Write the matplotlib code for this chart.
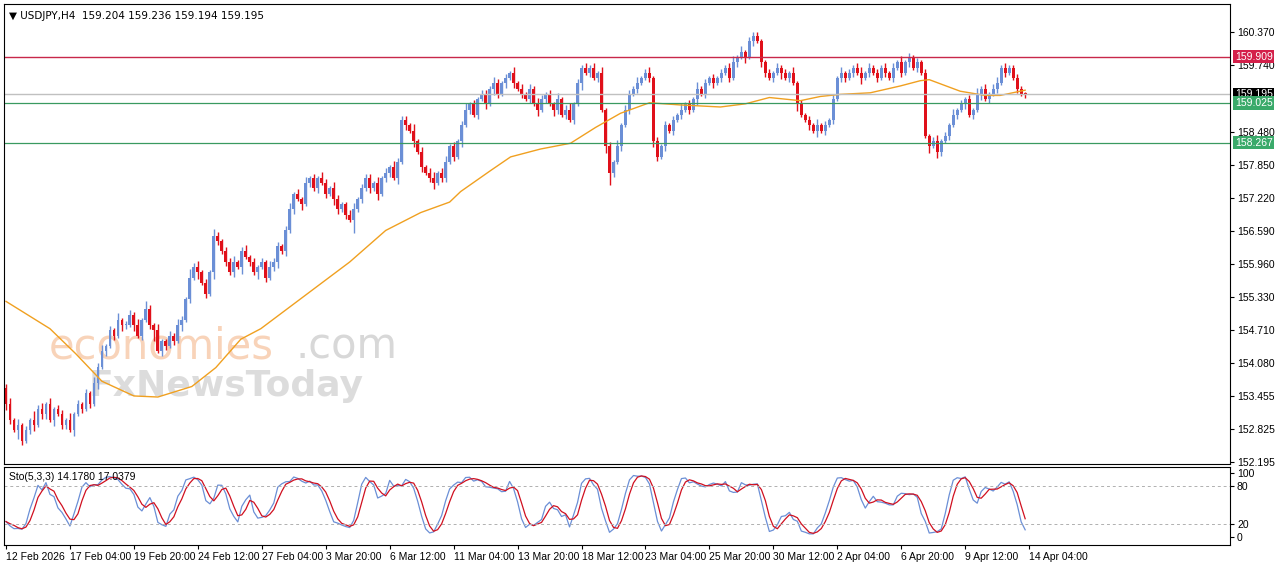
import matplotlib
matplotlib.use("Agg")
import matplotlib.pyplot as plt
import numpy as np

plt.rcParams['font.family'] = ['Liberation Sans', 'DejaVu Sans']

closes = [
153.3,153.0,152.8,152.9,152.6,152.8,153.0,152.9,153.2,153.1,
153.3,153.0,153.2,153.1,152.9,153.0,152.8,153.1,153.3,153.2,
153.5,153.3,153.7,154.0,154.3,154.4,154.7,154.6,154.9,154.8,
154.8,155.0,154.8,154.6,154.9,155.1,154.8,154.7,154.3,154.5,
154.4,154.6,154.5,154.8,154.9,155.3,155.7,155.9,155.8,155.6,
155.4,155.8,156.5,156.4,156.2,156.0,155.8,156.0,155.9,156.2,
156.1,156.0,155.8,155.9,156.0,155.7,155.9,156.0,156.3,156.2,
156.6,157.0,157.3,157.2,157.1,157.5,157.6,157.4,157.6,157.5,
157.3,157.4,157.2,157.0,157.1,156.9,156.8,157.0,157.2,157.4,
157.6,157.4,157.5,157.3,157.6,157.7,157.8,157.6,157.9,158.7,
158.6,158.5,158.3,158.1,157.8,157.7,157.6,157.5,157.7,157.6,
157.9,158.2,158.0,158.3,158.6,158.9,159.0,158.8,159.1,159.2,
159.0,159.3,159.4,159.2,159.4,159.5,159.6,159.4,159.3,159.2,
159.1,159.3,159.0,158.9,159.1,159.2,159.0,158.9,159.1,158.8,
158.9,158.7,159.0,159.4,159.7,159.6,159.7,159.5,159.6,158.9,
158.2,157.7,157.9,158.2,158.6,158.9,159.2,159.3,159.4,159.5,
159.6,159.5,158.3,158.0,158.2,158.6,158.5,158.7,158.8,158.9,
159.0,158.9,159.1,159.3,159.2,159.4,159.5,159.4,159.5,159.6,
159.7,159.5,159.8,159.9,160.0,159.9,160.2,160.3,160.2,159.8,
159.6,159.5,159.6,159.7,159.6,159.5,159.6,159.4,159.0,158.8,
158.7,158.6,158.5,158.6,158.5,158.6,158.7,159.1,159.5,159.6,
159.5,159.6,159.7,159.6,159.5,159.6,159.7,159.6,159.5,159.7,
159.6,159.5,159.7,159.8,159.6,159.8,159.9,159.7,159.8,159.6,
158.4,158.2,158.3,158.1,158.3,158.4,158.6,158.8,158.9,159.0,
159.1,158.8,158.9,159.2,159.3,159.1,159.2,159.3,159.4,159.7,
159.6,159.7,159.5,159.3,159.2,159.195]
first_open = 153.6
# wick sizes in units of 0.04 price
up_wick_digits = ("2313121423" "1312213121" "2132312131" "2213142131" "1213214231"
                  "2132122312" "3121213221" "2312131213" "2132112312" "2213121322"
                  "2131212312" "3121231212" "2132121312" "1213212131" "2312121213"
                  "1213122131" "2312121213" "1213121212" "1231312221" "1212121312"
                  "1213121213" "1212312121" "2121312121" "2123121312" "1213121231"
                  "211211")
dn_wick_digits = ("3214212312" "2131221312" "1213121213" "2131212512" "2121312131"
                  "2132121213" "1213121231" "2121312121" "2132121612" "1213122131"
                  "2131212312" "2121312121" "2132121212" "1213121321" "2121312121"
                  "3621212121" "1232121212" "1213121212" "1212131212" "2121312131"
                  "1213121212" "2121312121" "2121212121" "1313212121" "2121312121"
                  "211212")

ma_bars = [0, 11, 17.5, 24, 32, 38, 46.5, 52.5, 58.75, 63.75, 86, 95, 103.75, 111, 113.75, 121.25, 126.25,
           133.75, 141.25, 147.5, 153.75, 161, 168.5, 178.75, 185, 191, 198.75, 203.75, 208.75, 216.25,
           223.75, 228.75, 231, 238.75, 245, 248.75, 255]
ma_vals = [155.25, 154.73, 154.25, 153.73, 153.45, 153.43, 153.63, 153.99, 154.53, 154.73, 156.0, 156.6,
           156.94, 157.14, 157.34, 157.74, 158.0, 158.15, 158.26, 158.56, 158.83, 159.03, 158.99, 158.95,
           159.01, 159.13, 159.07, 159.15, 159.19, 159.22, 159.35, 159.45, 159.47, 159.25, 159.17, 159.17, 159.27]

level_red = 159.909
level_cur = 159.195
level_g1 = 159.025
level_g2 = 158.267
price_ticks = [160.370, 159.740, 158.480, 157.850, 157.220, 156.590, 155.960, 155.330, 154.710, 154.080, 153.455, 152.825, 152.195]
date_labels = ["12 Feb 2026", "17 Feb 04:00", "19 Feb 20:00", "24 Feb 12:00", "27 Feb 04:00", "3 Mar 20:00",
               "6 Mar 12:00", "11 Mar 04:00", "13 Mar 20:00", "18 Mar 12:00", "23 Mar 04:00", "25 Mar 20:00",
               "30 Mar 12:00", "2 Apr 04:00", "6 Apr 20:00", "9 Apr 12:00", "14 Apr 04:00"]
date_label_bars = [0, 16, 32, 48, 64, 80, 96, 112, 128, 144, 160, 176, 192, 208, 224, 240, 256]

n = len(closes)
c = np.array(closes)
o = np.concatenate([[first_open], c[:-1]])
uw = np.array([int(d) for d in up_wick_digits[:n]]) * 0.04
dw = np.array([int(d) for d in dn_wick_digits[:n]]) * 0.04
h = np.maximum(o, c) + uw
l = np.minimum(o, c) - dw

# stochastic 5,3,3
K = np.full(n, np.nan)
for i in range(n):
    lo = l[max(0, i - 4):i + 1].min(); hi = h[max(0, i - 4):i + 1].max()
    K[i] = 100 * (c[i] - lo) / (hi - lo)
Ks = np.array([np.mean(K[max(0, i - 2):i + 1]) for i in range(n)])
Ds = np.array([np.mean(Ks[max(0, i - 2):i + 1]) for i in range(n)])

W, H = 1280, 567
fig = plt.figure(figsize=(12.8, 5.67), dpi=100)
fig.patch.set_facecolor("white")
x0 = 4; x1 = 1230
ax = fig.add_axes([x0 / W, (H - 464) / H, (x1 - x0) / W, 460 / H])
ax2 = fig.add_axes([x0 / W, (H - 545) / H, (x1 - x0) / W, 78 / H])
xlim = (-0.5, (1230 - 5) / 4)
for a in (ax, ax2):
    a.set_xlim(*xlim)
    for s in a.spines.values():
        s.set_color("black"); s.set_linewidth(0.8)
ax.set_ylim(152.155, 160.91)

bull = "#6b8fd6"; bear = "#e0101a"
x = np.arange(n)
cols = [bull if c[i] >= o[i] else bear for i in range(n)]
ax.vlines(x, l, h, colors=cols, linewidth=1)
bh = np.maximum(np.abs(c - o), 0.015)
ax.bar(x, bh, bottom=np.minimum(o, c), width=0.7, color=cols, linewidth=0)

ax.plot(ma_bars, ma_vals, color="#f0a020", linewidth=1)

ax.axhline(level_red, color="#c8284a", linewidth=1)
ax.axhline(level_cur, color="#c0c0c0", linewidth=1)
ax.axhline(level_g1, color="#3a9a60", linewidth=0.9)
ax.axhline(level_g2, color="#3a9a60", linewidth=0.9)

ax.yaxis.tick_right()
ax.set_yticks(price_ticks)
ax.set_yticklabels([f"{t:.3f}" for t in price_ticks], fontsize=7.5)
ax.tick_params(axis="y", length=3, pad=2)
ax.set_xticks([])
for val, bg, fg in [(level_red, "#d4204a", "white"), (level_cur, "black", "white"),
                    (level_g1, "#3aaa6a", "white"), (level_g2, "#3aaa6a", "white")]:
    ax.text(1.004, val, f"{val:.3f}", transform=ax.get_yaxis_transform(), fontsize=7.5, color=fg,
            va="center", ha="left", bbox=dict(boxstyle="square,pad=0.15", fc=bg, ec="none"), clip_on=False)

ax.text(0.004, 0.985, "▼ USDJPY,H4  159.204 159.236 159.194 159.195", transform=ax.transAxes,
        fontsize=7.5, va="top", ha="left", color="black", family=['DejaVu Sans'])

# watermark
ax.text(45 / 1226, 0.255, "economies", transform=ax.transAxes, fontsize=30, color="#f7c9a8",
        alpha=0.8, va="center", ha="left", zorder=0, family=['DejaVu Sans'])
ax.text(292 / 1226, 0.255, ".com", transform=ax.transAxes, fontsize=30, color="#d8d8d8",
        va="center", ha="left", zorder=0, family=['DejaVu Sans'])
ax.text(85 / 1226, 0.17, "FxNewsToday", transform=ax.transAxes, fontsize=26, color="#d4d4d4",
        alpha=0.8, va="center", ha="left", zorder=0, fontweight="bold", family=['DejaVu Sans'])

# stochastic
ax2.set_ylim(-12.5, 109)
ax2.plot(x, Ks, color="#6b8fd6", linewidth=0.9)
ax2.plot(x, Ds, color="#d01020", linewidth=0.9)
for lv in (80, 20):
    ax2.axhline(lv, color="#b0b0b0", linewidth=0.7, linestyle=(0, (3, 3)))
ax2.yaxis.tick_right()
ax2.set_yticks([100, 80, 20, 0])
ax2.set_yticklabels(["100", "80", "20", "0"], fontsize=7.5)
ax2.tick_params(axis="y", length=3, pad=2)
ax2.text(0.004, 0.93, "Sto(5,3,3) 14.1780 17.0379", transform=ax2.transAxes, fontsize=7.5, va="top")
ax2.set_xticks(date_label_bars)
ax2.set_xticklabels(date_labels, fontsize=7.5, ha="left")
ax2.tick_params(axis="x", length=3, pad=2)

fig.savefig("out.png", dpi=100)
